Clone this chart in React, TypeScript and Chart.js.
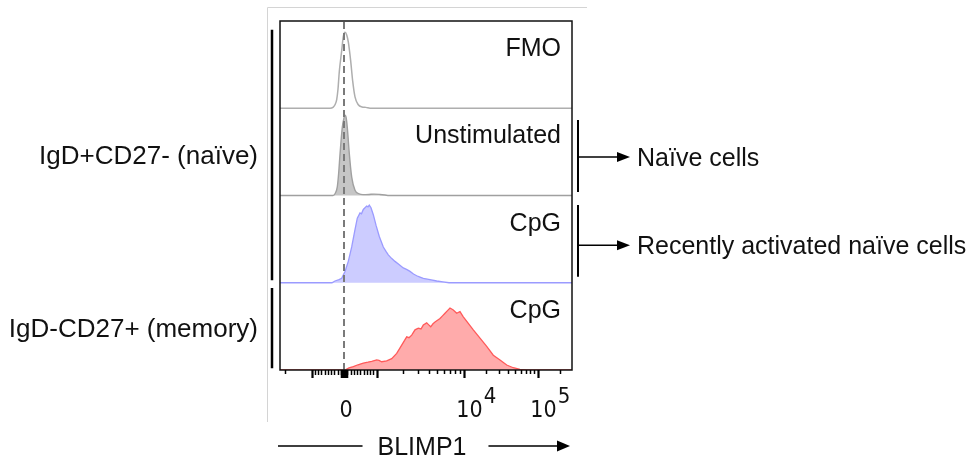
import React, { useEffect, useRef } from "react";
import { Chart, registerables } from "chart.js";

Chart.register(...registerables);

// ---- data (x in transformed display channels, 0 = BLIMP1 zero; y = fraction of panel height) ----
const fmoChannel = [-70, -14, -11, -9, -7.3, -6, -4.7, -2.3, -0.7, 1, 2.7, 4.3, 6.7, 8.7, 11, 14.3, 18, 22, 26, 240];
const fmoCount = [0, 0, 0.01, 0.04, 0.1, 0.22, 0.42, 0.66, 0.82, 0.87, 0.84, 0.76, 0.54, 0.31, 0.13, 0.04, 0.015, 0.01, 0, 0];

const unstimChannel = [-70, -11, -9, -6.7, -5.3, -4, -1.7, 0, 1, 2, 3.3, 5.3, 7.7, 11, 15, 19, 25, 30, 36, 41, 45, 240];
const unstimCount = [0, 0, 0.02, 0.1, 0.26, 0.47, 0.78, 0.89, 0.92, 0.9, 0.78, 0.48, 0.21, 0.06, 0.02, 0.01, 0.012, 0.016, 0.012, 0.006, 0, 0];

const cpgNaiveChannel = [-70, -12, -9, -5, -2.3, 1, 4.3, 7.7, 11, 13.3, 16, 17.5, 19.3, 21, 22.7, 24, 25.3, 27, 29.3, 32, 35.3, 39.3, 42, 44.3, 47.5, 51, 55, 59.3, 63, 66, 69.5, 72.7, 76, 79.3, 86, 92.7, 99, 105, 240];
const cpgNaiveCount = [0, 0, 0.02, 0.035, 0.05, 0.13, 0.245, 0.41, 0.61, 0.74, 0.8, 0.79, 0.84, 0.86, 0.88, 0.87, 0.89, 0.86, 0.78, 0.66, 0.53, 0.41, 0.36, 0.32, 0.28, 0.245, 0.21, 0.17, 0.15, 0.13, 0.1, 0.08, 0.065, 0.05, 0.035, 0.02, 0.01, 0, 0];

const cpgMemoryChannel = [-70, 0, 1, 5, 9.3, 14, 19.3, 24, 27.7, 32.7, 35, 37.7, 42.7, 47.7, 52.7, 57.7, 62.7, 65, 67.7, 71, 74.3, 77, 79.3, 82.7, 84.5, 86.7, 89, 91, 96, 98.5, 101, 103.5, 106, 109.3, 112.7, 116, 119.3, 124.3, 129.3, 136, 142.7, 149.3, 156, 162.7, 169.3, 176, 182.7, 240];
const cpgMemoryCount = [0, 0, 0, 0.025, 0.04, 0.06, 0.08, 0.09, 0.1, 0.115, 0.11, 0.095, 0.105, 0.13, 0.19, 0.286, 0.38, 0.37, 0.4, 0.46, 0.48, 0.47, 0.515, 0.54, 0.52, 0.495, 0.53, 0.55, 0.59, 0.62, 0.65, 0.68, 0.71, 0.688, 0.65, 0.67, 0.61, 0.535, 0.46, 0.365, 0.27, 0.17, 0.115, 0.057, 0.026, 0.008, 0, 0];

const panelLabels = ["FMO", "Unstimulated", "CpG", "CpG"];
const groupLabels = ["IgD+CD27- (naïve)", "IgD-CD27+ (memory)"];
const calloutLabels = ["Naïve cells", "Recently activated naïve cells"];
const axisTitle = "BLIMP1";
const majorTickValues = [-1000, 0, 1000, 10000, 100000];
const tickLabelValues = [0, 10000, 100000];
const tickLabelBase = ["0", "10", "10"];
const tickLabelExp = ["", "4", "5"];

const X_MIN = -64;
const X_MAX = 228;

// logicle-like display transform (value -> display channel)
function toChannel(v: number): number {
  const s = Math.sign(v);
  const a = Math.abs(v);
  if (a <= 1000) return v * 0.0325;
  if (a <= 10000) return s * (32.5 + 87 * Math.log10(a / 1000));
  return s * (119.5 + 74 * Math.log10(a / 10000));
}

const SANS = '"Liberation Sans", Arial, Helvetica, sans-serif';
const TICKFONT = '"DejaVu Sans Condensed", "DejaVu Sans", sans-serif';

function series(ch: number[], cnt: number[], base: number) {
  return ch.map((x, i) => ({ x, y: base + cnt[i] }));
}

const annotations = {
  id: "annotations",
  afterDraw(chart: any) {
    const ctx: CanvasRenderingContext2D = chart.ctx;
    const area = chart.chartArea;
    const xs = chart.scales.x;
    const ys = chart.scales.y;
    const L = area.left, R = area.right, T = area.top, B = area.bottom;
    const py = (v: number) => ys.getPixelForValue(v);
    ctx.save();

    // outer light frame
    ctx.strokeStyle = "#d4d4d4";
    ctx.lineWidth = 1;
    ctx.beginPath();
    ctx.moveTo(L - 12.5, 422);
    ctx.lineTo(L - 12.5, 7.5);
    ctx.lineTo(R + 15, 7.5);
    ctx.stroke();

    // dashed zero line
    const x0 = Math.round(xs.getPixelForValue(toChannel(0)));
    ctx.strokeStyle = "#7a7a7a";
    ctx.lineWidth = 2;
    ctx.setLineDash([7, 4]);
    ctx.beginPath();
    ctx.moveTo(x0, T + 1);
    ctx.lineTo(x0, B);
    ctx.stroke();
    ctx.setLineDash([]);

    // plot frame
    ctx.strokeStyle = "#111";
    ctx.lineWidth = 1.5;
    ctx.strokeRect(L, T, R - L, B - T);

    // ticks
    ctx.strokeStyle = "#000";
    const drawTick = (v: number, len: number, w: number) => {
      const c = toChannel(v);
      if (c < X_MIN || c > X_MAX) return;
      const x = Math.round(xs.getPixelForValue(c)) + 0.5;
      ctx.lineWidth = w;
      ctx.beginPath();
      ctx.moveTo(x, B);
      ctx.lineTo(x, B + len);
      ctx.stroke();
    };
    for (let m = 1; m <= 9; m++) {
      drawTick(m * 10, 8, 1.3);
      drawTick(-m * 10, 8, 1.3);
      drawTick(m * 100, 5, 1.5);
      drawTick(-m * 100, 5, 1.5);
    }
    for (const d of [1000, 10000, 100000]) {
      for (let m = 2; m <= 9; m++) {
        drawTick(m * d, 4, 1.5);
        drawTick(-m * d, 4, 1.5);
      }
    }
    majorTickValues.forEach((v) => drawTick(v, 8, 2.2));

    // tick labels
    ctx.fillStyle = "#111";
    tickLabelValues.forEach((v, i) => {
      const x = xs.getPixelForValue(toChannel(v));
      ctx.font = `23px ${TICKFONT}`;
      ctx.textBaseline = "alphabetic";
      if (!tickLabelExp[i]) {
        ctx.textAlign = "center";
        ctx.fillText(tickLabelBase[i], x + 2, 417);
      } else {
        ctx.textAlign = "center";
        const w = ctx.measureText(tickLabelBase[i]).width;
        ctx.fillText(tickLabelBase[i], x + 6, 417);
        ctx.textAlign = "left";
        ctx.font = `22px ${TICKFONT}`;
        ctx.fillText(tickLabelExp[i], x + 6 + w / 2 + 1, 403);
      }
    });

    // panel labels
    ctx.font = `25px ${SANS}`;
    ctx.textAlign = "right";
    ctx.fillStyle = "#111";
    panelLabels.forEach((t, i) => {
      const top = py(4 - i);
      ctx.fillText(t, R - 11, top + 35);
    });

    // left group brackets
    ctx.strokeStyle = "#000";
    ctx.lineWidth = 2.5;
    const bx = L - 8;
    ctx.beginPath();
    ctx.moveTo(bx, py(3.9));
    ctx.lineTo(bx, py(1.03));
    ctx.moveTo(bx, py(0.94));
    ctx.lineTo(bx, py(0.02));
    ctx.stroke();
    ctx.textAlign = "right";
    ctx.font = `26px ${SANS}`;
    ctx.fillText(groupLabels[0], bx - 14, (py(3.9) + py(1.03)) / 2 + 9);
    ctx.fillText(groupLabels[1], bx - 14, (py(0.94) + py(0.02)) / 2 + 9);
    ctx.font = `25px ${SANS}`;

    // right callouts
    const rx = R + 6;
    const callouts = [
      { top: 2.865, bot: 2.04, mid: 2.44 },
      { top: 1.89, bot: 1.07, mid: 1.43 },
    ];
    callouts.forEach((c, i) => {
      ctx.strokeStyle = "#000";
      ctx.lineWidth = 2;
      ctx.beginPath();
      ctx.moveTo(rx, py(c.top));
      ctx.lineTo(rx, py(c.bot));
      ctx.stroke();
      const yy = py(c.mid);
      ctx.lineWidth = 1.5;
      ctx.beginPath();
      ctx.moveTo(rx, yy);
      ctx.lineTo(rx + 42, yy);
      ctx.stroke();
      ctx.fillStyle = "#000";
      ctx.beginPath();
      ctx.moveTo(rx + 52, yy);
      ctx.lineTo(rx + 39, yy - 5);
      ctx.lineTo(rx + 39, yy + 5);
      ctx.closePath();
      ctx.fill();
      ctx.textAlign = "left";
      ctx.fillStyle = "#111";
      ctx.fillText(calloutLabels[i], rx + 59, yy + 9);
    });

    // axis title with arrow
    const ty = 446;
    ctx.textAlign = "center";
    const tw = ctx.measureText(axisTitle).width;
    const tcx = 422;
    ctx.fillText(axisTitle, tcx, ty + 9);
    ctx.strokeStyle = "#000";
    ctx.lineWidth = 1.5;
    ctx.beginPath();
    ctx.moveTo(L - 2, ty);
    ctx.lineTo(tcx - tw / 2 - 15, ty);
    ctx.moveTo(tcx + tw / 2 + 22, ty);
    ctx.lineTo(R - 12, ty);
    ctx.stroke();
    ctx.fillStyle = "#000";
    ctx.beginPath();
    ctx.moveTo(R - 2, ty);
    ctx.lineTo(R - 15, ty - 5.5);
    ctx.lineTo(R - 15, ty + 5.5);
    ctx.closePath();
    ctx.fill();

    ctx.restore();
  },
};

export default function App() {
  const ref = useRef<HTMLCanvasElement | null>(null);
  useEffect(() => {
    if (!ref.current) return;
    const chart = new Chart(ref.current, {
      type: "line",
      data: {
        datasets: [
          {
            label: "CpG memory",
            data: series(cpgMemoryChannel, cpgMemoryCount, 0),
            borderColor: "#ff5a5a",
            backgroundColor: "#ffabab",
            borderWidth: 1.3,
            fill: { value: 0 },
            pointRadius: 0,
            tension: 0,
          },
          {
            label: "CpG naive",
            data: series(cpgNaiveChannel, cpgNaiveCount, 1),
            borderColor: "#9b9bff",
            backgroundColor: "#ccccff",
            borderWidth: 1.3,
            fill: { value: 1 },
            pointRadius: 0,
            tension: 0,
          },
          {
            label: "Unstimulated",
            data: series(unstimChannel, unstimCount, 2),
            borderColor: "#a0a0a0",
            backgroundColor: "#c6c6c6",
            borderWidth: 1.4,
            fill: { value: 2 },
            pointRadius: 0,
            cubicInterpolationMode: "monotone",
          },
          {
            label: "FMO",
            data: series(fmoChannel, fmoCount, 3),
            borderColor: "#aeaeae",
            borderWidth: 1.5,
            fill: false,
            pointRadius: 0,
            cubicInterpolationMode: "monotone",
          },
        ],
      },
      options: {
        responsive: false,
        animation: false,
        events: [],
        layout: { padding: { left: 280, right: 403, top: 21, bottom: 91 } },
        plugins: { legend: { display: false }, tooltip: { enabled: false } },
        scales: {
          x: { type: "linear", min: X_MIN, max: X_MAX, display: false },
          y: { type: "linear", min: 0, max: 4, display: false },
        },
      },
      plugins: [annotations],
    });
    return () => chart.destroy();
  }, []);
  return (
    <div style={{ position: "absolute", left: 0, top: 0, width: 975, height: 461, background: "#fff" }}>
      <canvas ref={ref} width={975} height={461} style={{ width: 975, height: 461, display: "block" }} />
    </div>
  );
}
